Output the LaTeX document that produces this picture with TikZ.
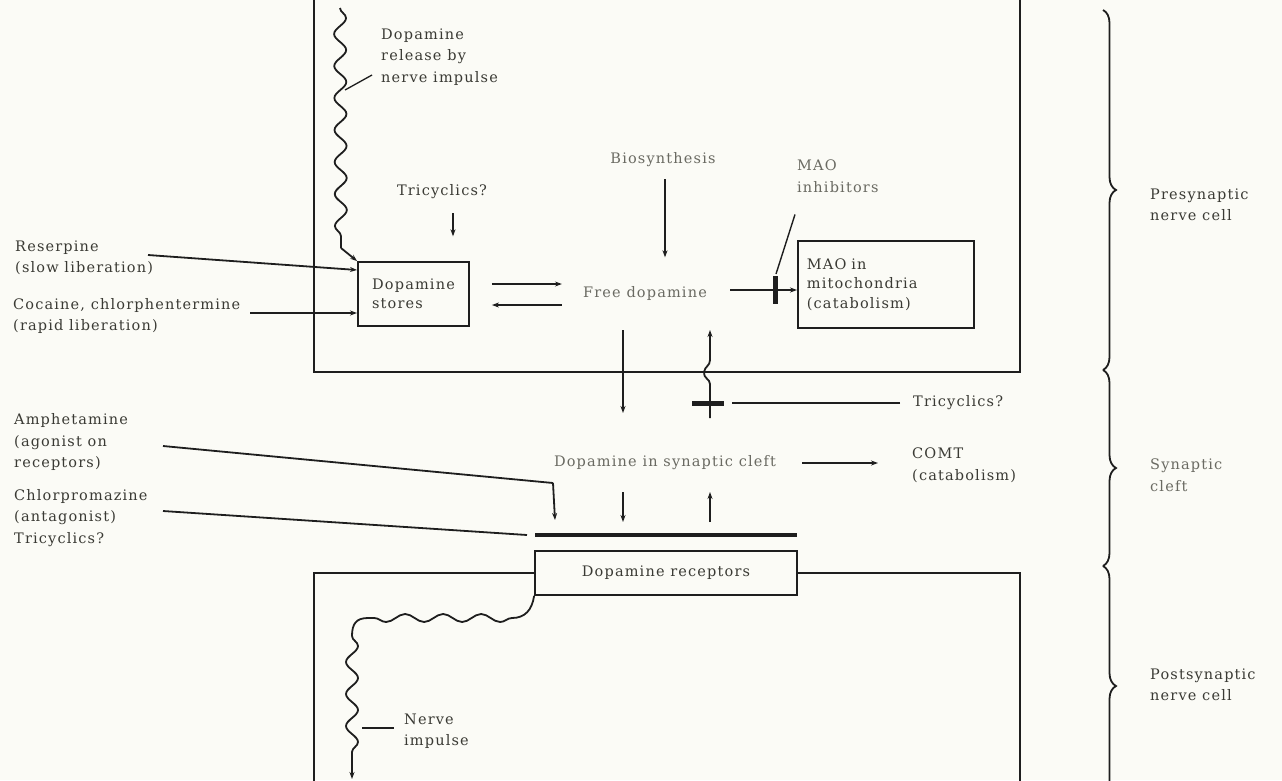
\documentclass[tikz,border=0pt]{standalone}
\usepackage{fontspec}
\setmainfont{DejaVu Serif}[LetterSpace=8]
\usetikzlibrary{arrows.meta,decorations.pathmorphing,decorations.pathreplacing,calc}
\definecolor{paper}{HTML}{FBFBF6}
\definecolor{ink}{HTML}{1E1E1E}
\definecolor{txt}{HTML}{3A3A34}
\definecolor{lighttxt}{HTML}{6A6A62}
\begin{document}
\begin{tikzpicture}[x=1pt,y=-1pt,
  ln/.style={draw=ink,line width=1.8pt},
  arr/.style={ln,-{Stealth[length=7pt,width=5pt]}},
  membrane/.style={draw=ink,line width=2.2pt},
  blocker/.style={draw=ink,line width=5pt},
  wave/.style={ln,decorate,decoration={snake,amplitude=6pt,segment length=32pt}},
  lbl/.style={text=txt,inner sep=0pt,align=left,font=\fontsize{14.5}{21.5}\selectfont},
  lightlbl/.style={lbl,text=lighttxt},
  boxed/.style={draw=ink,line width=1.8pt,text=txt,font=\fontsize{14.5}{19.5}\selectfont},
  bracestyle/.style={draw=ink,line width=1.8pt,decorate,decoration={brace,amplitude=13pt}}]
\useasboundingbox[fill=paper] (0,0) rectangle (1282,780);

% membranes
\draw[membrane] (314,-5) -- (314,372) -- (1020,372) -- (1020,-5);

% boxes
\node[boxed,minimum width=111pt,minimum height=64pt,align=left,inner sep=0pt] (stores) at (413.5,294) {Dopamine\\stores};
\node[boxed,minimum height=87pt,text width=158pt,inner xsep=9pt,inner ysep=0pt,align=left,anchor=north west] (mao) at (797,240) {MAO in\\mitochondria\\(catabolism)};
\node[boxed,minimum width=262pt,minimum height=44pt,inner sep=0pt] (rec) at (666,573) {Dopamine receptors};

\draw[membrane] (rec.west) -- (314,573) -- (314,785);
\draw[membrane] (rec.east) -- (1020,573) -- (1020,785);

% labels
\node[lbl,anchor=west] (rel) at (381,57) {Dopamine\\release by\\nerve impulse};
\node[lbl] (tri1) at (442,192) {Tricyclics?};
\node[lightlbl] (bio) at (663,160) {Biosynthesis};
\node[lightlbl] (free) at (645,293) {Free dopamine};
\node[lightlbl,anchor=west] (maoinh) at (797,176) {MAO\\inhibitors};
\node[lightlbl] (cleft) at (665,463) {Dopamine in synaptic cleft};
\node[lbl,anchor=west] (comt) at (912,465) {COMT\\(catabolism)};
\node[lbl,anchor=west] (tri2) at (913,403) {Tricyclics?};
\node[lbl,anchor=west] (res) at (15,258) {Reserpine\\(slow liberation)};
\node[lbl,anchor=west] (coc) at (13,316) {Cocaine, chlorphentermine\\(rapid liberation)};
\node[lbl,anchor=west] (amph) at (14,442) {Amphetamine\\(agonist on\\receptors)};
\node[lbl,anchor=west] (chlor) at (14,518) {Chlorpromazine\\(antagonist)\\Tricyclics?};
\node[lbl,anchor=west] (pre) at (1150,205) {Presynaptic\\nerve cell};
\node[lightlbl,anchor=west] (syn) at (1150,475) {Synaptic\\cleft};
\node[lbl,anchor=west] (post) at (1150,685) {Postsynaptic\\nerve cell};
\node[lbl,anchor=west] (nerve) at (404,731) {Nerve\\impulse};

% coordinates
\coordinate (w1) at (340,8);
\coordinate (w2) at (341,248);
\coordinate (relp) at (345,90);
\coordinate (relq) at (372,75);
\coordinate (resS) at (148,255);
\coordinate (resin) at (357,270);
\coordinate (cocS) at (250,313);
\coordinate (cocin) at (357,313);
\coordinate (bar1) at (775,290);
\coordinate (dn1) at (623,330);
\coordinate (dn2) at (623,413);
\coordinate (up1) at (710,418);
\coordinate (up2) at (710,330);
\coordinate (bar2) at (708,403);
\coordinate (amphS) at (163,446);
\coordinate (amphbend) at (553,483);
\coordinate (amphend) at (555,520);
\coordinate (chlorS) at (163,511);
\coordinate (chlorend) at (527,535);
\coordinate (rbarL) at (535,535);
\coordinate (rbarR) at (797,535);
\coordinate (c1) at (623,492);
\coordinate (c2) at (623,522);
\coordinate (c3) at (710,522);
\coordinate (c4) at (710,492);
\coordinate (h1) at (512,618);
\coordinate (h2) at (368,618);
\coordinate (v1) at (352,636);
\coordinate (v2) at (352,764);
\coordinate (v3) at (352,779);
\coordinate (nervep) at (362,728);
\coordinate (nerveq) at (394,728);

% top wavy (release by nerve impulse)
\draw[wave] (w1) -- (w2);
\draw[arr] (w2) -- (stores.north west);
\draw[ln,line width=1.3pt] (relp) -- (relq);

% left drug arrows
\draw[arr] (resS) -- (resin);
\draw[arr] (cocS) -- (cocin);

% presynaptic arrows
\draw[arr,line width=1.3pt] ($(tri1.south)+(11,14)$) -- ($(tri1.south)+(11,37)$);
\draw[arr] ($(bio.south)+(2,12)$) -- ($(bio.south)+(2,90)$);
\draw[arr] ($(stores.east)+(22,-10)$) -- ($(free.west)+(-21,-9)$);
\draw[arr] ($(free.west)+(-21,12)$) -- ($(stores.east)+(22,11)$);
\draw[arr] ($(free.east)+(23,-3)$) -- (mao.west |- bar1);
\draw[blocker] ($(bar1)+(0,-14)$) -- ($(bar1)+(0,14)$);
\draw[ln,line width=1.4pt] ($(maoinh.south west)+(-2,22)$) -- ($(bar1)+(1,-16)$);

% across the presynaptic membrane
\draw[arr] (dn1) -- (dn2);
\draw[arr] (up1) -- (710,384) .. controls (710,379) and (703,378) .. (704,372) .. controls (705,366) and (710,366) .. (710,360) -- (up2);
\draw[blocker] ($(bar2)+(-16,0)$) -- ($(bar2)+(16,0)$);
\draw[ln,line width=1.3pt] (tri2.west) ++(-13,0) -- (732,403);

% synaptic cleft
\draw[arr] (802,463) -- (878,463);
\draw[arr,line width=1.4pt] (c1) -- (c2);
\draw[arr,line width=1.4pt] (c3) -- (c4);
\draw[ln] (amphS) -- (amphbend);
\draw[arr] (amphbend) -- (amphend);
\draw[ln] (chlorS) -- (chlorend);
\draw[draw=ink,line width=4.5pt] (rbarL) -- (rbarR);

% postsynaptic nerve impulse
\draw[ln] (rec.south west) .. controls (532,610) and (525,618) .. (h1);
\draw[ln,decorate,decoration={snake,amplitude=4pt,segment length=38pt}] (h1) -- (h2);
\draw[ln] (h2) .. controls (356,618) and (352,624) .. (v1);
\draw[wave] (v1) -- (v2);
\draw[arr] (v2) -- (v3);
\draw[ln,line width=1.3pt] (nervep) -- (nerveq);

% braces
\draw[bracestyle] (1103,10) -- (1103,370);
\draw[bracestyle] (1103,370) -- (1103,566);
\draw[bracestyle] (1103,566) -- (1103,806);
\end{tikzpicture}
\end{document}
